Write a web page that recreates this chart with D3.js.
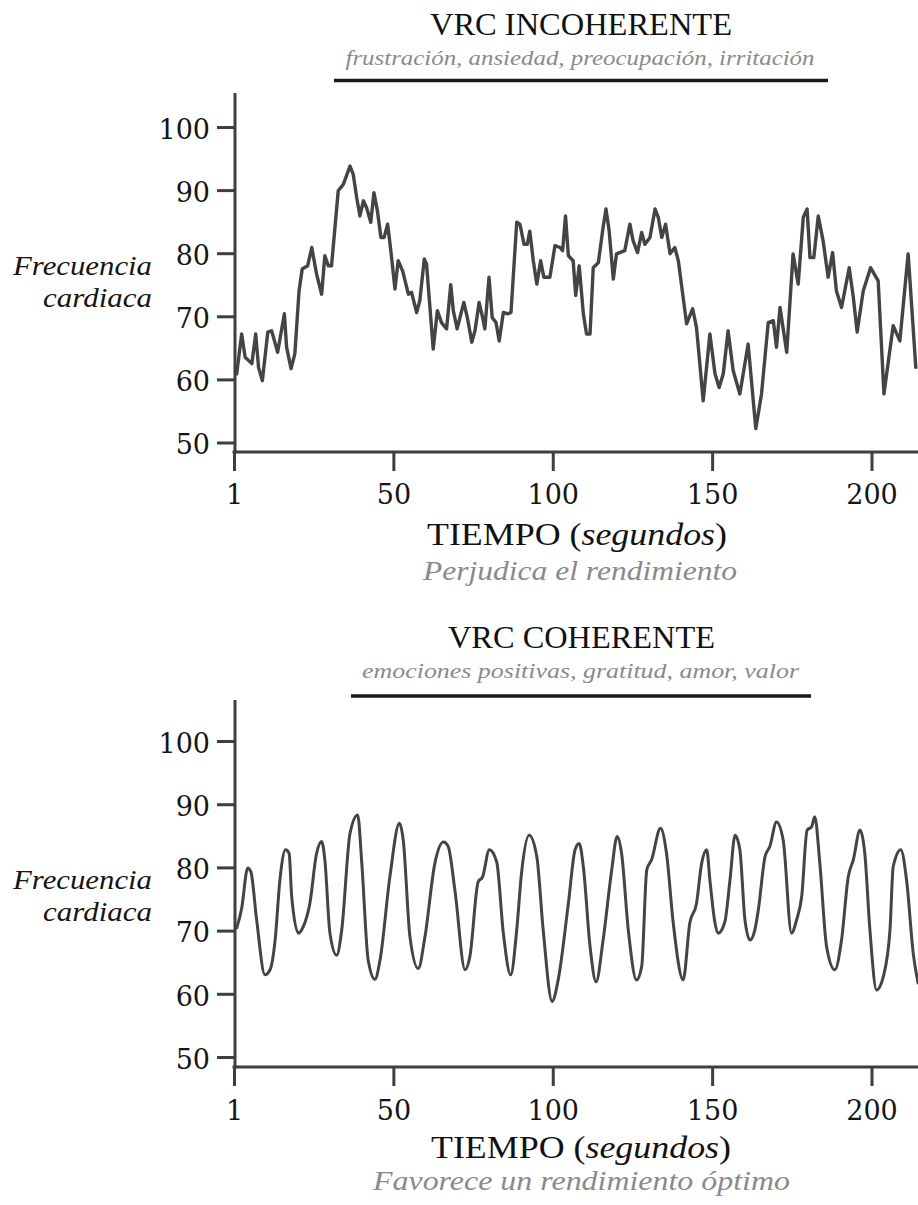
<!DOCTYPE html>
<html>
<head>
<meta charset="utf-8">
<script src="https://cdn.jsdelivr.net/npm/d3@7/dist/d3.min.js"></script>
<style>
  html, body { margin: 0; padding: 0; background: #fff; }
  svg { display: block; }
</style>
</head>
<body>
<svg id="chart" width="918" height="1205"></svg>
<script>
// ---------- DATA ----------
const yTicks = [50, 60, 70, 80, 90, 100];
const xTicks = [0, 50, 100, 150, 200];
const xTickLabels = ["1", "50", "100", "150", "200"];

// Incoherent HRV (seconds, bpm)
const topTimes = [0.85,2.4,3.5,5.6,6.8,7.7,8.9,10.6,11.8,13.7,15.8,16.5,17.9,19.1,20.4,21.4,23.1,24.4,25.9,27.5,28.5,29.6,30.6,32.7,34.3,36.4,37.4,38.5,39.5,40.6,41.6,42.9,43.9,45,46.1,47.1,48.2,49.2,50.5,51.5,52.9,54.7,55.7,57.3,58.3,59.7,60.4,62.5,63.8,65.1,66.7,68,68.8,70,72.1,73.2,74.6,75.6,76.9,78,78.7,80,81,82.2,83.2,84.5,86,86.9,88.7,89.7,91,92,92.8,93.9,95,96.2,97.2,99.1,100.7,102.3,103.1,104,104.9,106.4,107.2,108.3,109.6,110.6,111.7,112.7,114.3,115.8,116.7,117.7,119,120,122.6,124.2,125.2,126.6,127.9,128.9,130.5,132.1,133.1,134.2,135.4,136.8,138.3,139.4,142,143.9,145.1,147.2,149.3,150.9,152.2,153.5,155,156.6,158.7,161.3,163.7,165.5,167.6,169.2,170.2,171.3,173.4,175.4,177,178.6,179.8,180.7,181.9,183.3,184.8,186.4,187.8,189,190.6,193,194.3,195.5,197.4,199.7,202.1,203.9,206.8,208.9,211.5,213.9];
const topValues = [60.9,67.2,63.5,62.5,67.2,61.9,59.8,67.5,67.7,64.3,70.4,65.1,61.7,64.1,74,77.5,78,80.9,76.7,73.5,79.6,78,78,89.9,90.9,93.8,92.5,88.8,85.9,88.3,87.2,84.9,89.6,86.7,82.5,82.5,84.6,80.4,74.3,78.8,77.2,73.5,73.8,70.6,72.5,79.1,78.3,64.8,70.9,69,68,75,70.9,68,72.2,69.8,65.9,67.7,72.2,69.8,68,76.2,69.8,69,66.1,70.6,70.4,70.6,84.9,84.6,81.4,81.4,83.5,78.8,75.1,78.8,76.2,76.2,81.2,80.9,80.4,85.9,79.6,78.8,73.3,78,70.4,67.2,67.2,77.7,78.5,84.1,87,83.5,75.9,79.9,80.4,84.6,82,80.1,83.3,81.4,82.5,87,85.7,82.5,84.6,79.9,80.9,78.8,68.8,71.2,68.2,56.6,67.2,60.9,58.7,60.9,67.7,61.4,57.7,65.6,52.2,57.7,69,69.3,65.1,71.4,64.3,79.9,75.1,85.7,87,79.3,79.3,85.9,82,76.2,80.1,74,71.4,77.7,73,67.5,74,77.7,75.6,57.7,68.5,66.1,79.9,61.9];

// Coherent HRV (seconds, bpm)
const bottomTimes = [0.85,2.4,4.3,5.3,7.1,9.7,11.3,12.9,14.4,16.2,17.3,18.1,20.2,21.7,23.8,25.9,27.5,28.5,30.1,32.2,33.8,36.4,38.8,40.1,42.1,44.2,45.8,48.9,51.9,53.1,55.2,57.8,59.9,63,65.7,67.2,69.3,72.5,74,76.6,78,80.1,82.4,84.5,86.8,88.7,90.2,92.6,95,97,99.8,101.7,104.9,107,108.3,109.6,111.7,113.6,115.8,118.5,120.2,121.6,123.7,126.3,127.9,129.5,131,133.8,135.7,137.8,140.9,143,145.1,146.7,148.3,149.3,150.9,151.9,154,155.6,157.2,158.7,160.3,161.9,163.4,164.5,166.6,168.1,170.2,172.3,174.9,176.5,178.1,179.8,181.2,182.2,183.8,185.9,188.5,190.6,192.7,194.3,196.4,197.9,199.5,201.6,203.7,205.8,206.8,209.2,211,213.1,214.6];
const bottomValues = [70.4,73.5,79.9,79.3,71.7,63,63.8,68.5,78,82.8,82.2,75.4,69.6,70.6,74.3,82.2,84.1,81.2,69.6,66.1,70.1,85.4,88.3,80.6,65.3,62.3,65.3,78.5,87,84.3,69,64,69,80.6,84,83.3,76.4,63.8,65.9,77.7,78.5,82.8,80.9,69.6,63,70.1,79.1,85.1,81.7,70.1,58.8,62.2,74.3,82.8,83.8,80.1,67.5,61.9,68.5,79.6,84.9,82.2,70.1,62.2,64.3,79.6,81.2,86.2,82.2,71.2,62.2,71.2,74.3,80.6,82.8,78,71.2,69.6,71.4,78,85.1,82.8,71.7,68.5,70.1,73.3,81.7,83.3,87.2,84.3,69.6,71.7,75.4,85.9,86.4,88,80.6,67.5,63.8,68.5,78.5,81.2,85.9,82.2,70.1,60.6,62.7,70.1,80.1,82.8,78,66.4,61.7];

// ---------- DRAW ----------
const svg = d3.select("#chart");
const serif = "'Liberation Serif', 'DejaVu Serif', serif";
const tickFont = "'DejaVu Serif', 'Liberation Serif', serif";
const ink = "#3f3f3f";

const panels = [
  {
    times: topTimes, values: topValues, curve: d3.curveLinear, width: 3.4,
    yRange: [442.5, 127], axisTop: 93, axisY: 452,
    title: "VRC INCOHERENTE", titleX: 581, titleY: 35, titleLen: 302,
    sub: "frustración, ansiedad, preocupación, irritación", subX: 580, subY: 65, subLen: 469,
    rule: [334, 828, 80.5],
    yl1: 275, yl2: 307,
    tickY: 504, timeX: 577, timeY: 545,
    note: "Perjudica el rendimiento", noteX: 580, noteY: 580, noteLen: 314
  },
  {
    times: bottomTimes, values: bottomValues, curve: d3.curveMonotoneX, width: 3,
    yRange: [1057, 741], axisTop: 700, axisY: 1067,
    title: "VRC COHERENTE", titleX: 581.5, titleY: 648, titleLen: 267,
    sub: "emociones positivas, gratitud, amor, valor", subX: 580.5, subY: 678, subLen: 437,
    rule: [351, 811, 696],
    yl1: 889, yl2: 921,
    tickY: 1120, timeX: 581, timeY: 1158,
    note: "Favorece un rendimiento óptimo", noteX: 581.5, noteY: 1190, noteLen: 417
  }
];

panels.forEach(p => {
  const g = svg.append("g");
  const x = d3.scaleLinear().domain([0, 200]).range([234, 871.5]);
  const y = d3.scaleLinear().domain([50, 100]).range(p.yRange);

  // Title block
  g.append("text").attr("x", p.titleX).attr("y", p.titleY)
    .attr("text-anchor", "middle").attr("font-family", serif).attr("font-size", 32)
    .attr("fill", "#111").attr("textLength", p.titleLen).attr("lengthAdjust", "spacingAndGlyphs")
    .text(p.title);
  g.append("text").attr("x", p.subX).attr("y", p.subY)
    .attr("text-anchor", "middle").attr("font-family", serif).attr("font-style", "italic")
    .attr("font-size", 22).attr("fill", "#8a8a8a")
    .attr("textLength", p.subLen).attr("lengthAdjust", "spacingAndGlyphs")
    .text(p.sub);
  g.append("line").attr("x1", p.rule[0]).attr("x2", p.rule[1])
    .attr("y1", p.rule[2]).attr("y2", p.rule[2])
    .attr("stroke", "#1a1a1a").attr("stroke-width", 3.5);

  // Y axis
  const yAxis = d3.axisLeft(y).tickValues(yTicks).tickSize(17).tickPadding(7);
  const ya = g.append("g").attr("transform", `translate(${x(0)},0)`).call(yAxis);
  ya.select(".domain").remove();
  ya.selectAll(".tick line").attr("stroke", ink).attr("stroke-width", 3);
  ya.selectAll(".tick text").attr("font-family", tickFont).attr("font-size", 27)
    .attr("fill", "#151515").attr("dy", "0.42em");
  g.append("line").attr("x1", x(0) + 1).attr("x2", x(0) + 1)
    .attr("y1", p.axisTop).attr("y2", p.axisY + 1.5)
    .attr("stroke", ink).attr("stroke-width", 3);

  // X axis
  const xAxis = d3.axisBottom(x).tickValues(xTicks)
    .tickFormat((d, i) => xTickLabels[i]).tickSize(19).tickPadding(0);
  const xa = g.append("g").attr("transform", `translate(0,${p.axisY})`).call(xAxis);
  xa.select(".domain").remove();
  xa.selectAll(".tick line").attr("stroke", ink).attr("stroke-width", 3);
  xa.selectAll(".tick text").attr("font-family", tickFont).attr("font-size", 27)
    .attr("fill", "#151515").attr("y", p.tickY - p.axisY).attr("dy", 0);
  g.append("line").attr("x1", x(0) - 1.5).attr("x2", 918)
    .attr("y1", p.axisY).attr("y2", p.axisY)
    .attr("stroke", ink).attr("stroke-width", 3);

  // Y label
  const yl = g.append("g").attr("font-family", serif).attr("font-style", "italic")
    .attr("font-size", 28).attr("fill", "#151515").attr("text-anchor", "end");
  yl.append("text").attr("x", 152).attr("y", p.yl1)
    .attr("textLength", 139).attr("lengthAdjust", "spacingAndGlyphs").text("Frecuencia");
  yl.append("text").attr("x", 152).attr("y", p.yl2)
    .attr("textLength", 109).attr("lengthAdjust", "spacingAndGlyphs").text("cardiaca");

  // X label
  const tl = g.append("text").attr("x", p.timeX).attr("y", p.timeY)
    .attr("text-anchor", "middle").attr("font-family", serif).attr("font-size", 31)
    .attr("fill", "#111").attr("textLength", 300).attr("lengthAdjust", "spacingAndGlyphs");
  tl.append("tspan").text("TIEMPO (");
  tl.append("tspan").attr("font-style", "italic").text("segundos");
  tl.append("tspan").text(")");
  g.append("text").attr("x", p.noteX).attr("y", p.noteY)
    .attr("text-anchor", "middle").attr("font-family", serif).attr("font-style", "italic")
    .attr("font-size", 28).attr("fill", "#8a8a8a")
    .attr("textLength", p.noteLen).attr("lengthAdjust", "spacingAndGlyphs")
    .text(p.note);

  // Line
  const data = p.times.map((t, i) => [t, p.values[i]]);
  const line = d3.line().x(d => x(d[0])).y(d => y(d[1])).curve(p.curve);
  g.append("path").datum(data).attr("d", line)
    .attr("fill", "none").attr("stroke", "#444").attr("stroke-width", p.width)
    .attr("stroke-linejoin", "round").attr("stroke-linecap", "round");
});
</script>
</body>
</html>
